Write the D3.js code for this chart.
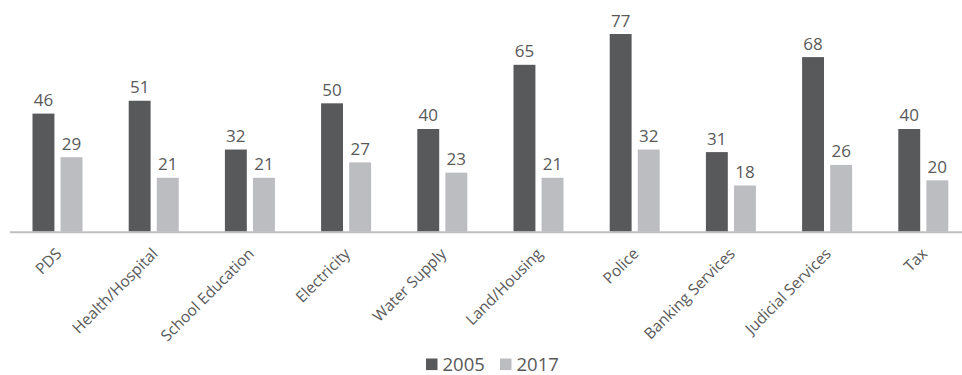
<!DOCTYPE html>
<html>
<head>
<meta charset="utf-8">
<script src="https://cdn.jsdelivr.net/npm/d3@7"></script>
<style>
  html, body { margin: 0; padding: 0; background: #fff; }
  svg { display: block; font-family: "Open Sans", "Noto Sans", sans-serif; }
</style>
</head>
<body>
<svg id="chart" width="962" height="375"></svg>
<script>
// Services and the share reported for each survey year
const categories = ["PDS", "Health/Hospital", "School Education", "Electricity", "Water Supply",
                    "Land/Housing", "Police", "Banking Services", "Judicial Services", "Tax"];
const seriesNames = ["2005", "2017"];
const values2005 = [46, 51, 32, 50, 40, 65, 77, 31, 68, 40];
const values2017 = [29, 21, 21, 27, 23, 21, 32, 18, 26, 20];
const colors = ["#58595b", "#bcbdc0"];

const svg = d3.select("#chart");

const x = d3.scaleBand().domain(categories).range([9.4, 971.4]).paddingInner(0).paddingOuter(0);
const x1 = d3.scaleBand().domain(seriesNames).range([8, 58]).paddingInner(0.22).paddingOuter(0);
const y = d3.scaleLinear().domain([0, 77]).range([231.7, 34]);

const rows = categories.map((c, i) => ({ cat: c, vals: [values2005[i], values2017[i]] }));

const groups = svg.selectAll("g.cat").data(rows).join("g")
  .attr("class", "cat")
  .attr("transform", d => `translate(${x(d.cat) + x.bandwidth() / 2 - 33},0)`);

groups.selectAll("rect").data(d => d.vals.map((v, j) => ({ v, s: seriesNames[j], j })))
  .join("rect")
  .attr("x", d => x1(d.s))
  .attr("width", x1.bandwidth())
  .attr("y", d => y(d.v))
  .attr("height", d => y(0) - y(d.v))
  .attr("fill", d => colors[d.j]);

groups.selectAll("text.val").data(d => d.vals.map((v, j) => ({ v, s: seriesNames[j] })))
  .join("text")
  .attr("class", "val")
  .attr("x", d => x1(d.s) + x1.bandwidth() / 2)
  .attr("y", d => y(d.v) - 7.5)
  .attr("text-anchor", "middle")
  .attr("font-size", 17)
  .attr("fill", "#595959")
  .text(d => d.v);

// Category axis
const axis = svg.append("g").attr("transform", `translate(0,${y(0)})`)
  .call(d3.axisBottom(x).tickSize(0).tickPadding(0));
axis.attr("font-family", null).attr("font-size", null);
axis.select(".domain").attr("stroke", "#bfbfbf").attr("stroke-width", 2);
axis.selectAll(".tick text")
  .attr("font-size", 15.5)
  .attr("fill", "#595959")
  .attr("text-anchor", "end")
  .attr("dy", null)
  .attr("y", 0)
  .attr("transform", "translate(5,23) rotate(-45)");

// Legend
const legend = svg.append("g").attr("transform", "translate(426,358.5)");
const items = legend.selectAll("g").data(seriesNames).join("g")
  .attr("transform", (d, i) => `translate(${i * 74},0)`);
items.append("rect").attr("width", 11.5).attr("height", 11.6).attr("fill", (d, i) => colors[i]);
items.append("text").attr("x", 16.5).attr("y", 12.3)
  .attr("font-size", 18.5).attr("fill", "#595959").text(d => d);
</script>
</body>
</html>
